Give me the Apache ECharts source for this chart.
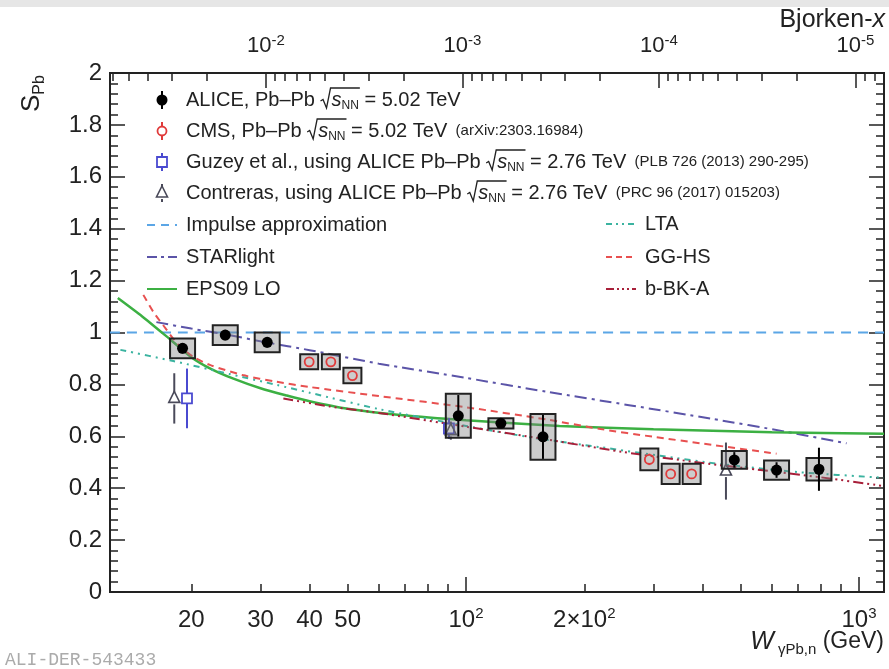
<!DOCTYPE html>
<html><head><meta charset="utf-8">
<script src="https://cdn.jsdelivr.net/npm/echarts@6.0.0/dist/echarts.min.js"></script>
<style>html,body{margin:0;padding:0;background:#fff}#c{width:889px;height:669px}</style>
</head><body><div id="c"></div>
<script>
// ---------------- data ----------------
const wMin = 12.42, wMax = 1158;
const jpsiMass = 3.097; // Bjorken-x = (M/W)^2

const bottomLabelTicks = [20, 30, 40, 50, 100, 200, 1000];
const bottomMajorTicks = [100, 1000];
const bottomMinorTicks = [20, 30, 40, 50, 60, 70, 80, 90, 200, 300, 400, 500, 600, 700, 800, 900];
const topMajorTicks = [1e-2, 1e-3, 1e-4, 1e-5];

const aliceW    = [19.0, 24.4, 31.2, 95.6, 122.7, 157, 481.7, 617, 791];
const aliceS    = [0.939, 0.990, 0.962, 0.679, 0.650, 0.598, 0.509, 0.470, 0.473];
const aliceStat = [0.02, 0.02, 0.02, 0.08, 0.015, 0.085, 0.03, 0.03, 0.083];
const aliceSys  = [0.038, 0.038, 0.038, 0.085, 0.02, 0.088, 0.034, 0.037, 0.043];

const cmsW    = [39.9, 45.3, 51.4, 292.8, 331.8, 375.2];
const cmsS    = [0.887, 0.887, 0.834, 0.511, 0.455, 0.455];
const cmsStat = [0.01, 0.01, 0.01, 0.022, 0.01, 0.01];
const cmsSys  = [0.029, 0.029, 0.03, 0.042, 0.039, 0.039];

const guzeyW   = [19.5, 90.5];
const guzeyS   = [0.746, 0.63];
const guzeyErr = [0.115, 0.04];

const contrerasW   = [18.1, 91.5, 458.7];
const contrerasS   = [0.746, 0.622, 0.466];
const contrerasErr = [0.097, 0.035, 0.11];

const impulseW = [wMin, wMax];
const impulseS = [1, 1];

const starlightW = [16.3, 20, 25, 31, 40, 60, 100, 160, 260, 420, 650, 930];
const starlightS = [1.04, 1.015, 0.99, 0.962, 0.932, 0.88, 0.825, 0.772, 0.72, 0.668, 0.618, 0.573];

const eps09W = [13.0, 15, 17.3, 20, 22.3, 25.6, 30, 35, 40, 50, 68, 100, 173, 300, 600, 1158];
const eps09S = [1.133, 1.062, 0.985, 0.905, 0.862, 0.822, 0.785, 0.757, 0.735, 0.706, 0.682, 0.662, 0.64, 0.627, 0.616, 0.61];

const ltaW = [13.2, 18, 25, 33, 40, 60, 100, 150, 220, 312, 450, 700, 1158];
const ltaS = [0.933, 0.89, 0.84, 0.798, 0.768, 0.705, 0.64, 0.593, 0.558, 0.525, 0.492, 0.462, 0.44];

const gghsW = [15.1, 16.0, 17.2, 18.4, 20.2, 22.3, 27, 33, 40, 60, 100, 160, 220, 300, 400, 617];
const gghsS = [1.145, 1.08, 1.016, 0.958, 0.907, 0.875, 0.836, 0.81, 0.79, 0.755, 0.712, 0.665, 0.628, 0.598, 0.572, 0.533];

const bbkaW = [34.3, 45, 60, 100, 150, 250, 400, 550, 800, 1158];
const bbkaS = [0.746, 0.715, 0.69, 0.637, 0.595, 0.54, 0.497, 0.472, 0.442, 0.408];

// ---------------- helpers ----------------
const FF = '"Liberation Sans", Arial, Helvetica, sans-serif';
const INK = '#222';
const mctx = document.createElement('canvas').getContext('2d');
function tw(text, size, italic) {
  mctx.font = (italic ? 'italic ' : '') + size + 'px ' + FF;
  return mctx.measureText(text).width;
}
function textRow(x, yc, parts, align) {
  const widths = parts.map(p => p.text != null ? tw(p.text, p.size, p.italic) : (p.rad === 'start' ? 11 : 0));
  const total = widths.reduce((a, b) => a + b, 0);
  let cx = align === 'right' ? x - total : x;
  const els = [];
  let radX = null;
  parts.forEach((p, i) => {
    if (p.text != null) {
      els.push({type: 'text', x: cx, y: yc + (p.dy || 0), silent: true,
        style: {text: p.text, fontSize: p.size, fontFamily: FF, fontStyle: p.italic ? 'italic' : 'normal',
          fill: INK, align: 'left', verticalAlign: 'middle'}});
    } else if (p.rad === 'start') {
      radX = cx;
    } else if (p.rad === 'end') {
      els.push({type: 'polyline', silent: true, shape: {points: [[radX, yc + 1], [radX + 2.5, yc - 0.5], [radX + 6, yc + 8], [radX + 10, yc - 12], [cx + 1, yc - 12]]},
        style: {stroke: INK, lineWidth: 1.3, fill: null}});
    }
    cx += widths[i];
  });
  return els;
}
function sqrtS(size) {
  return [{rad: 'start'}, {text: 's', size: size, italic: true}, {text: 'NN', size: 12, dy: 6}, {rad: 'end'}];
}
function vbar(x, y1, y2, color) {
  return {type: 'line', shape: {x1: x, y1: y1, x2: x, y2: y2}, style: {stroke: color, lineWidth: 2}};
}
function splitBar(x, y, eTop, eBot, gap, color) {
  const out = [];
  if (y - gap > eTop) out.push(vbar(x, eTop, y - gap, color));
  if (y + gap < eBot) out.push(vbar(x, y + gap, eBot, color));
  return out;
}
function mkAlice(x, y, eTop, eBot) {
  return [vbar(x, eTop, eBot, '#000'),
    {type: 'circle', shape: {cx: x, cy: y, r: 5.5}, style: {fill: '#000'}}];
}
function mkCms(x, y, eTop, eBot) {
  return splitBar(x, y, eTop, eBot, 4.5, '#e03a3a').concat([
    {type: 'circle', shape: {cx: x, cy: y, r: 4.5}, style: {fill: null, stroke: '#e03a3a', lineWidth: 1.8}}]);
}
function mkGuzey(x, y, eTop, eBot) {
  return splitBar(x, y, eTop, eBot, 5, '#4a4ad0').concat([
    {type: 'rect', shape: {x: x - 5, y: y - 5, width: 10, height: 10}, style: {fill: '#fff', stroke: '#4a4ad0', lineWidth: 1.8}}]);
}
function mkContreras(x, y, eTop, eBot) {
  return splitBar(x, y, eTop, eBot, 6, '#4a4a5a').concat([
    {type: 'polygon', shape: {points: [[x, y - 7], [x + 5.5, y + 4], [x - 5.5, y + 4]]}, style: {fill: null, stroke: '#4a4a5a', lineWidth: 1.6}}]);
}
function pointSeries(name, W, S, stat, sys, maker, boxHalf, z) {
  return {
    type: 'custom', name: name, z: z, silent: true,
    encode: {x: 0, y: 1},
    data: W.map((w, i) => [w, S[i], stat[i], sys ? sys[i] : 0]),
    renderItem: function (params, api) {
      const w = api.value(0), s = api.value(1), st = api.value(2), sy = api.value(3);
      const c = api.coord([w, s]);
      const eTop = api.coord([w, s + st])[1], eBot = api.coord([w, s - st])[1];
      const children = [];
      if (sy > 0) {
        const top = api.coord([w, s + sy])[1], bot = api.coord([w, s - sy])[1];
        children.push({type: 'rect', shape: {x: c[0] - boxHalf, y: top, width: 2 * boxHalf, height: bot - top},
          style: {fill: 'rgba(128,128,128,0.4)', stroke: '#222', lineWidth: 2}});
      }
      return {type: 'group', children: children.concat(maker(c[0], c[1], eTop, eBot))};
    }
  };
}
function curve(name, W, S, color, dash, width, z) {
  return {type: 'line', name: name, data: W.map((w, i) => [w, S[i]]), showSymbol: false, symbol: 'none',
    smooth: 0.25, silent: true, z: z || 2,
    lineStyle: {color: color, width: width || 2, type: dash}};
}

// Bjorken-x axis range
const bjMin = Math.pow(jpsiMass / wMax, 2), bjMax = Math.pow(jpsiMass / wMin, 2);
const topMinorTicks = [];
for (let e = -6; e <= -2; e++) for (let k = 2; k <= 9; k++) {
  const v = k * Math.pow(10, e);
  if (v >= bjMin && v <= bjMax) topMinorTicks.push(v);
}

const supRich = {
  b: {fontSize: 24, lineHeight: 28, fontFamily: FF, color: INK},
  s: {fontSize: 15, lineHeight: 16, verticalAlign: 'top', fontFamily: FF, color: INK}
};
const supRichTop = {
  b: {fontSize: 22, lineHeight: 26, fontFamily: FF, color: INK},
  s: {fontSize: 15, lineHeight: 15, verticalAlign: 'top', fontFamily: FF, color: INK}
};
function fmtBottom(v) {
  const e = Math.round(Math.log10(v));
  if (Math.abs(v - Math.pow(10, e)) < 1e-6 * v) return '{b|10}{s|' + e + '}';
  if (Math.abs(v - 2 * Math.pow(10, e)) < 1e-6 * v && e >= 2) return '{b|2×10}{s|' + e + '}';
  return '{b|' + Math.round(v) + '}';
}
function fmtTop(v) {
  const e = Math.round(Math.log10(v));
  return '{b|10}{s|' + e + '}';
}

const tickStyle = {color: INK, width: 1.5};
function logAxis(extra) {
  return Object.assign({type: 'log', logBase: 10, axisLine: {show: false}, splitLine: {show: false},
    minorTick: {show: false}, minorSplitLine: {show: false}}, extra);
}

// ---------------- graphics (legend, titles) ----------------
const g = [];
g.push({type: 'rect', shape: {x: 0, y: 0, width: 889, height: 7}, style: {fill: '#e6e6e6'}, silent: true});
// legend markers
g.push(...mkAlice(162, 100, 91, 109));
g.push(...mkCms(162, 131, 122, 140));
g.push(...mkGuzey(162, 162, 153, 171));
g.push(...mkContreras(162, 193, 184, 202));
// legend texts
g.push(...textRow(186, 100, [{text: 'ALICE, Pb–Pb ', size: 20}].concat(sqrtS(20), [{text: ' = 5.02 TeV', size: 20}])));
g.push(...textRow(186, 131, [{text: 'CMS, Pb–Pb ', size: 20}].concat(sqrtS(20), [{text: ' = 5.02 TeV', size: 20}, {text: '  (arXiv:2303.16984)', size: 15}])));
g.push(...textRow(186, 162, [{text: 'Guzey et al., using ALICE Pb–Pb ', size: 20}].concat(sqrtS(20), [{text: ' = 2.76 TeV', size: 20}, {text: '  (PLB 726 (2013) 290-295)', size: 15}])));
g.push(...textRow(186, 193, [{text: 'Contreras, using ALICE Pb–Pb ', size: 20}].concat(sqrtS(20), [{text: ' = 2.76 TeV', size: 20}, {text: '  (PRC 96 (2017) 015203)', size: 15}])));
const legLines = [
  [147, 225, 'Impulse approximation', '#5ba6e6', [8, 6]],
  [147, 257, 'STARlight', '#5b54a8', [10, 4, 3, 4]],
  [147, 289, 'EPS09 LO', '#3cb043', null],
  [606, 224, 'LTA', '#3bb3a0', [6, 4, 2, 4, 2, 4]],
  [606, 257, 'GG-HS', '#e85050', [6, 4]],
  [606, 289, 'b-BK-A', '#a8203a', [8, 3, 2, 3, 2, 3, 2, 3]]
];
legLines.forEach(([x, y, label, color, dash]) => {
  g.push({type: 'line', silent: true, shape: {x1: x, y1: y, x2: x + 30, y2: y},
    style: {stroke: color, lineWidth: 2, lineDash: dash || null}});
  g.push(...textRow(x + 39, y, [{text: label, size: 20}]));
});
// axis titles
g.push(...textRow(885, 20, [{text: 'Bjorken-', size: 25}, {text: 'x', size: 25, italic: true}], 'right'));
g.push(...textRow(884, 642, [{text: 'W', size: 25, italic: true}, {text: ' γPb,n', size: 15, dy: 8}, {text: ' (GeV)', size: 23}], 'right'));
g.push({type: 'group', x: 32, y: 112, rotation: Math.PI / 2, silent: true, children:
  textRow(0, 0, [{text: 'S', size: 26}, {text: 'Pb', size: 16, dy: 8}])});
g.push({type: 'text', x: 5, y: 660, silent: true, style: {text: 'ALI-DER-543433', fontSize: 18,
  fontFamily: '"Liberation Mono", "DejaVu Sans Mono", monospace', fill: '#ababab', verticalAlign: 'middle'}});

// ---------------- chart ----------------
const chart = echarts.init(document.getElementById('c'), null, {renderer: 'canvas'});
chart.setOption({
  animation: false,
  backgroundColor: '#fff',
  grid: {left: 110, right: 5, top: 73, bottom: 77, show: true, borderColor: '#222', borderWidth: 2, backgroundColor: 'transparent'},
  xAxis: [
    logAxis({min: wMin, max: wMax, position: 'bottom',
      axisTick: {inside: true, length: 15, lineStyle: tickStyle, customValues: bottomMajorTicks},
      axisLabel: {customValues: bottomLabelTicks, margin: 14, formatter: fmtBottom, rich: supRich, fontSize: 24, color: INK, fontFamily: FF}}),
    logAxis({min: wMin, max: wMax, position: 'bottom',
      axisTick: {inside: true, length: 8, lineStyle: tickStyle, customValues: bottomMinorTicks},
      axisLabel: {show: false}}),
    logAxis({min: bjMin, max: bjMax, inverse: true, position: 'top',
      axisTick: {inside: true, length: 15, lineStyle: tickStyle, customValues: topMajorTicks},
      axisLabel: {customValues: topMajorTicks, margin: 14, formatter: fmtTop, rich: supRichTop, fontSize: 22, color: INK, fontFamily: FF}}),
    logAxis({min: bjMin, max: bjMax, inverse: true, position: 'top',
      axisTick: {inside: true, length: 8, lineStyle: tickStyle, customValues: topMinorTicks},
      axisLabel: {show: false}})
  ],
  yAxis: [
    {type: 'value', min: 0, max: 2, interval: 0.2, position: 'left', axisLine: {show: false}, splitLine: {show: false},
      axisTick: {inside: true, length: 15, lineStyle: tickStyle},
      minorTick: {show: true, splitNumber: 5, length: 8, lineStyle: tickStyle},
      axisLabel: {fontSize: 24, color: INK, fontFamily: FF, margin: 8, formatter: v => String(+v.toFixed(1))}},
    {type: 'value', min: 0, max: 2, interval: 0.2, position: 'right', axisLine: {show: false}, splitLine: {show: false},
      axisTick: {inside: true, length: 15, lineStyle: tickStyle},
      minorTick: {show: true, splitNumber: 5, length: 8, lineStyle: tickStyle},
      axisLabel: {show: false}}
  ],
  series: [
    curve('Impulse approximation', impulseW, impulseS, '#5ba6e6', [10, 7], 2),
    curve('STARlight', starlightW, starlightS, '#5b54a8', [12, 5, 3, 5], 2),
    curve('EPS09 LO', eps09W, eps09S, '#3cb043', 'solid', 2.5),
    curve('LTA', ltaW, ltaS, '#3bb3a0', [6, 5, 2, 5, 2, 5], 2),
    curve('GG-HS', gghsW, gghsS, '#e85050', [7, 5], 2),
    curve('b-BK-A', bbkaW, bbkaS, '#a8203a', [10, 4, 2, 4, 2, 4, 2, 4], 2),
    pointSeries('Guzey', guzeyW, guzeyS, guzeyErr, null, mkGuzey, 0, 6),
    pointSeries('Contreras', contrerasW, contrerasS, contrerasErr, null, mkContreras, 0, 7),
    pointSeries('CMS', cmsW, cmsS, cmsStat, cmsSys, mkCms, 9, 8),
    pointSeries('ALICE', aliceW, aliceS, aliceStat, aliceSys, mkAlice, 12.5, 9)
  ],
  graphic: {elements: g}
});
</script></body></html>
